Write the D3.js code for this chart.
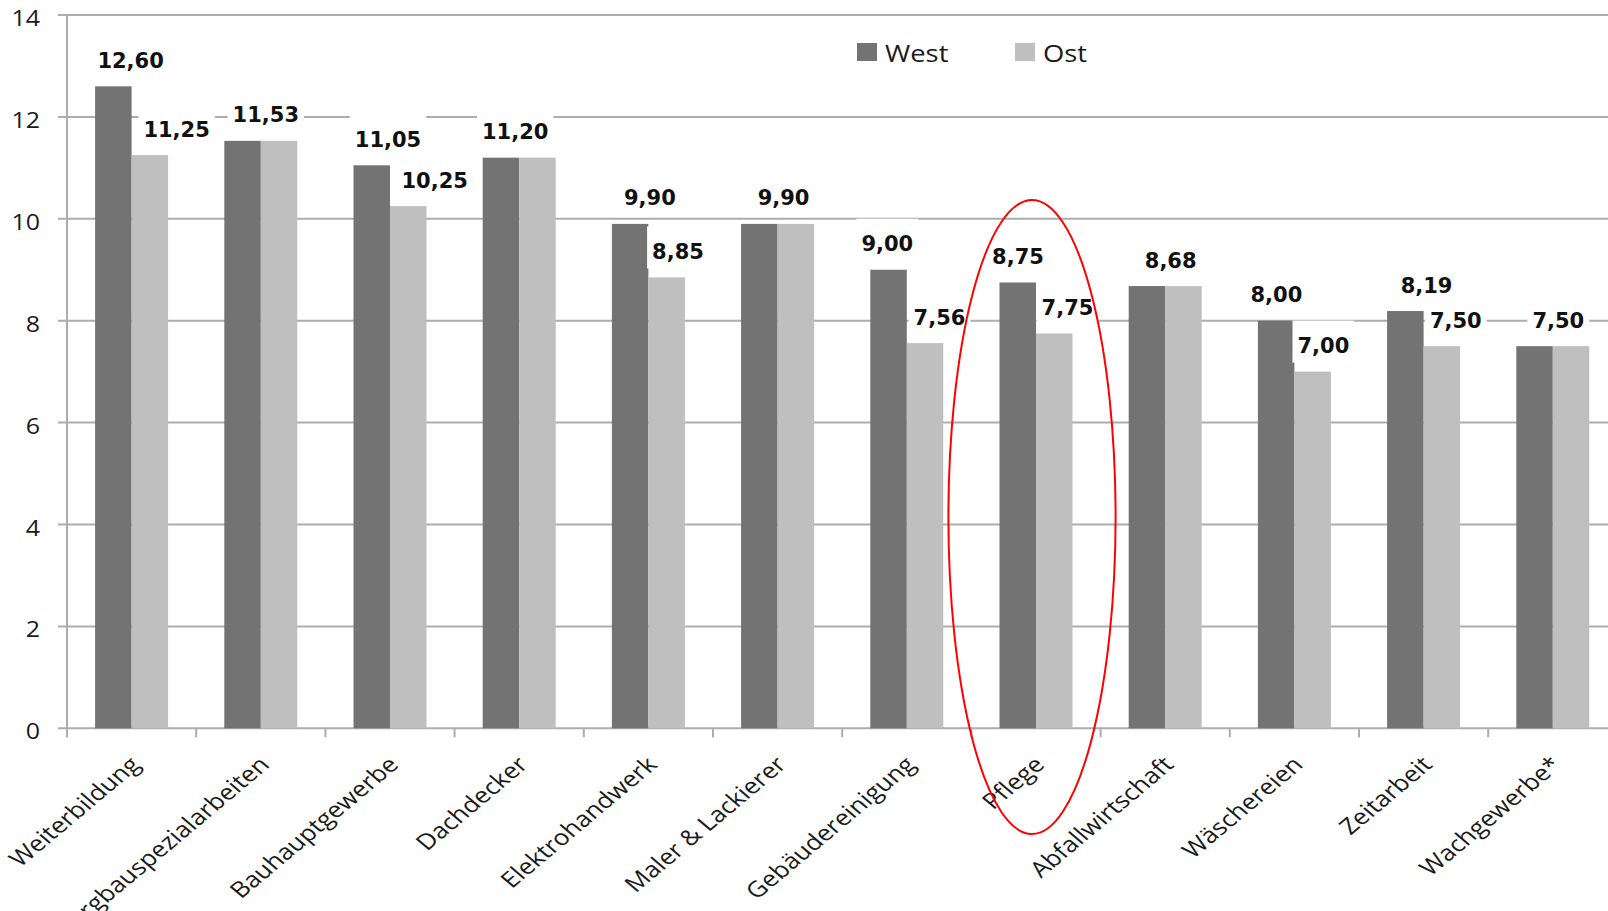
<!DOCTYPE html>
<html lang="de">
<head>
<meta charset="utf-8">
<title>Mindestlöhne West / Ost</title>
<script src="https://cdn.jsdelivr.net/npm/d3@7/dist/d3.min.js"></script>
<style>
  html, body { margin: 0; padding: 0; background: #fff; overflow: hidden; }
  svg { display: block; }
</style>
</head>
<body>
<svg id="chart" width="1608" height="911"></svg>
<script>
// Branchen (x-axis categories)
const categories = [
  "Weiterbildung", "Bergbauspezialarbeiten", "Bauhauptgewerbe", "Dachdecker",
  "Elektrohandwerk", "Maler & Lackierer", "Gebäudereinigung", "Pflege",
  "Abfallwirtschaft", "Wäschereien", "Zeitarbeit", "Wachgewerbe*"
];
// Mindestlohn in Euro je Stunde
const westValues = [12.60, 11.53, 11.05, 11.20, 9.90, 9.90, 9.00, 8.75, 8.68, 8.00, 8.19, 7.50];
const ostValues  = [11.25, 11.53, 10.25, 11.20, 8.85, 9.90, 7.56, 7.75, 8.68, 7.00, 7.50, 7.50];
const seriesNames = ["West", "Ost"];
const yTicks = [0, 2, 4, 6, 8, 10, 12, 14];
const highlighted = "Pflege";

// horizontal nudges for the value labels, relative to the category centre
const westLabelDx = [-1, 5, -2, -4, 1.5, 6, -19.5, -18, 5.5, -18, 3, 5.5];
const ostLabelDx  = [45, 0, 44.7, 0, 29.6, 0, 32.7, 31.5, 0, 29, 32.2, 0];

const colors = { West: "#737373", Ost: "#bfbfbf" };
const gridColor = "#adadad";
const stretch = 1.19;   // horizontal text stretch
const numFmt = d3.formatLocale({ decimal: ",", thousands: ".", grouping: [3], currency: ["", " €"] }).format(".2f");

const svg = d3.select("#chart");

const x = d3.scaleBand().domain(categories).range([67, 1617.4]).paddingInner(0).paddingOuter(0);
const xSeries = d3.scaleBand().domain(seriesNames).range([0, x.bandwidth()]).paddingInner(0).paddingOuter(0.77);
const y = d3.scaleLinear().domain([0, 14]).range([728.3, 15]);

const rows = categories.map((c, i) => ({ category: c, i, West: westValues[i], Ost: ostValues[i] }));

// gridlines
svg.append("g")
  .selectAll("line")
  .data(yTicks)
  .join("line")
  .attr("x1", 58).attr("x2", 1608)
  .attr("y1", d => y(d)).attr("y2", d => y(d))
  .attr("stroke", gridColor).attr("stroke-width", 2);

// y axis line
svg.append("line")
  .attr("x1", 67).attr("x2", 67)
  .attr("y1", y(14)).attr("y2", y(0) + 9)
  .attr("stroke", gridColor).attr("stroke-width", 2);

// category boundary ticks
svg.append("g")
  .selectAll("line")
  .data(categories)
  .join("line")
  .attr("x1", d => x(d)).attr("x2", d => x(d))
  .attr("y1", y(0)).attr("y2", y(0) + 9)
  .attr("stroke", gridColor).attr("stroke-width", 2);

// y tick labels
svg.append("g")
  .selectAll("text")
  .data(yTicks)
  .join("text")
  .attr("transform", d => `translate(40,${y(d) + 3.5}) scale(${stretch},1)`)
  .attr("text-anchor", "end")
  .attr("dy", "0.36em")
  .attr("font-family", "'Open Sans', sans-serif")
  .attr("font-size", 21)
  .attr("fill", "#1a1a1a")
  .text(d => d);

// bars
const groups = svg.append("g")
  .selectAll("g")
  .data(rows)
  .join("g")
  .attr("transform", d => `translate(${x(d.category)},0)`);

groups.selectAll("rect")
  .data(d => seriesNames.map(s => ({ series: s, value: d[s] })))
  .join("rect")
  .attr("x", d => xSeries(d.series))
  .attr("width", xSeries.bandwidth())
  .attr("y", d => y(d.value))
  .attr("height", d => y(0) - y(d.value))
  .attr("fill", d => colors[d.series]);

// value labels (white boxed); one label when both regions share the value
const labels = [];
rows.forEach(r => {
  const cx = x(r.category) + x.bandwidth() / 2;
  labels.push({ value: r.West, x: cx + westLabelDx[r.i], yc: y(r.West) - 26 });
  if (r.Ost !== r.West) {
    labels.push({ value: r.Ost, x: cx + ostLabelDx[r.i], yc: y(r.Ost) - 26 });
  }
});

const boxLayer = svg.append("g");
const textLayer = svg.append("g");

const labelText = textLayer.selectAll("text")
  .data(labels)
  .join("text")
  .attr("x", d => d.x)
  .attr("y", d => d.yc + 7.6)
  .attr("text-anchor", "middle")
  .attr("font-family", "'DejaVu Sans', sans-serif")
  .attr("font-weight", "bold")
  .attr("font-size", 21)
  .attr("fill", "#111")
  .text(d => numFmt(d.value));

labelText.each(function(d) { d.w = this.getComputedTextLength(); });

boxLayer.selectAll("rect")
  .data(labels)
  .join("rect")
  .attr("x", d => d.x - d.w / 2 - 5)
  .attr("width", d => d.w + 10)
  .attr("y", d => d.yc - 25)
  .attr("height", 42)
  .attr("fill", "#fff");

// category labels
svg.append("g")
  .selectAll("text")
  .data(categories)
  .join("text")
  .attr("transform", d => `translate(${x(d) + x.bandwidth() / 2 + 10},766) scale(${stretch},1) rotate(-45)`)
  .attr("text-anchor", "end")
  .attr("font-family", "'Open Sans', sans-serif")
  .attr("font-size", 22)
  .attr("fill", "#1a1a1a")
  .text(d => d);

// legend
const legendX = [857, 1015];
const legend = svg.append("g")
  .selectAll("g")
  .data(seriesNames)
  .join("g")
  .attr("transform", (d, i) => `translate(${legendX[i]},43)`);
legend.append("rect")
  .attr("width", 20).attr("height", 18)
  .attr("fill", d => colors[d]);
legend.append("text")
  .attr("transform", `translate(28,19) scale(${stretch},1)`)
  .attr("font-family", "'Open Sans', sans-serif")
  .attr("font-size", 23)
  .attr("fill", "#1a1a1a")
  .text(d => d);

// highlight around Pflege
const hx = x(highlighted) + x.bandwidth() / 2 - 4;
svg.append("ellipse")
  .attr("cx", hx)
  .attr("cy", 517)
  .attr("rx", 83.6)
  .attr("ry", 317)
  .attr("fill", "none")
  .attr("stroke", "#f00")
  .attr("stroke-width", 2);
</script>
</body>
</html>
